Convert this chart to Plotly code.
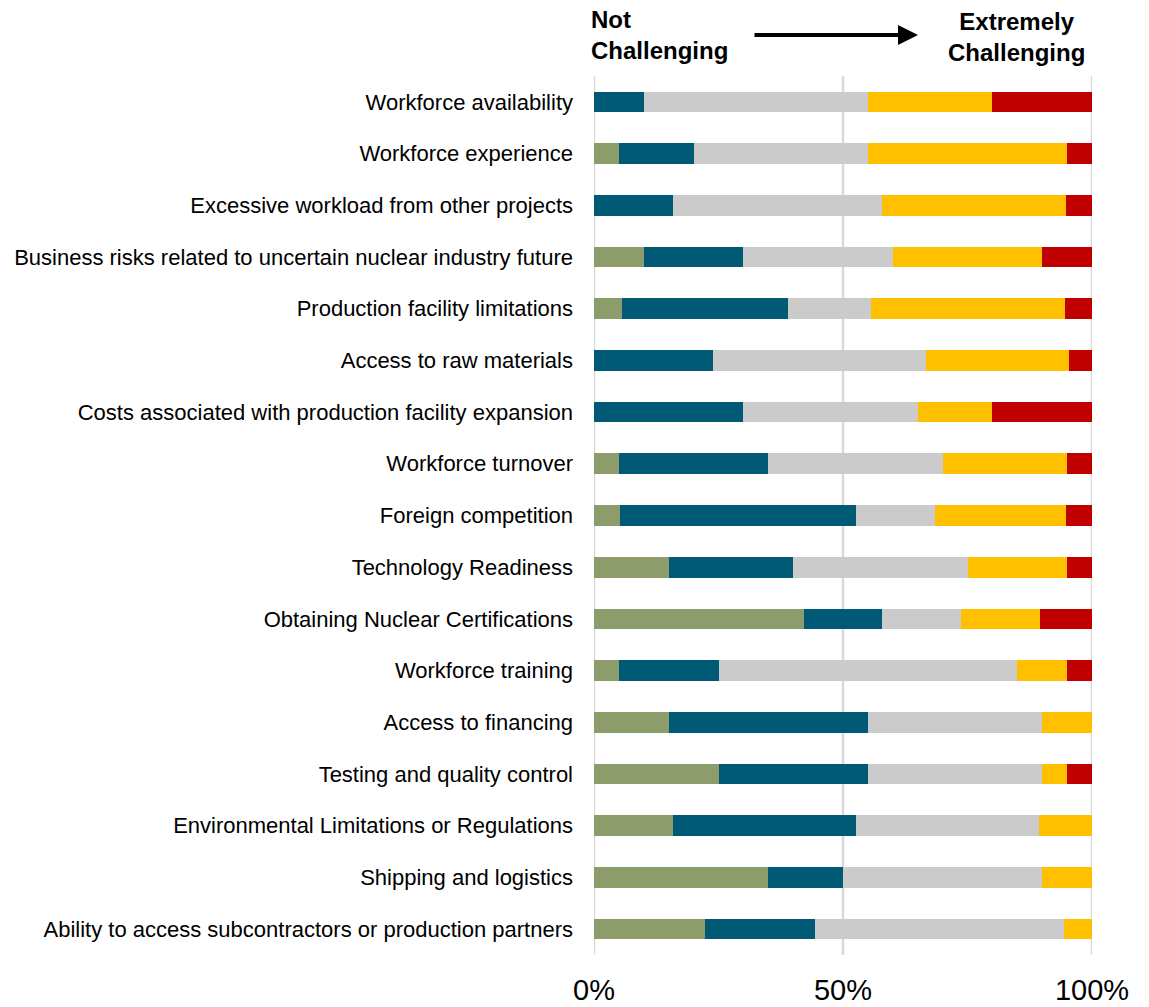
import plotly.graph_objects as go

categories = [
    "Workforce availability",
    "Workforce experience",
    "Excessive workload from other projects",
    "Business risks related to uncertain nuclear industry future",
    "Production facility limitations",
    "Access to raw materials",
    "Costs associated with production facility expansion",
    "Workforce turnover",
    "Foreign competition",
    "Technology Readiness",
    "Obtaining Nuclear Certifications",
    "Workforce training",
    "Access to financing",
    "Testing and quality control",
    "Environmental Limitations or Regulations",
    "Shipping and logistics",
    "Ability to access subcontractors or production partners",
]

level1 = [0, 5, 0, 10, 5.6, 0, 0, 5, 5.3, 15, 42.1, 5, 15, 25, 15.8, 35, 22.2]
level2 = [10, 15, 15.8, 20, 33.3, 23.8, 30, 30, 47.4, 25, 15.8, 20, 40, 30, 36.8, 15, 22.2]
level3 = [45, 35, 42.1, 30, 16.7, 42.9, 35, 35, 15.8, 35, 15.8, 60, 35, 35, 36.8, 40, 50]
level4 = [25, 40, 36.8, 30, 38.9, 28.6, 15, 25, 26.3, 20, 15.8, 10, 10, 5, 10.5, 10, 5.6]
level5 = [20, 5, 5.3, 10, 5.6, 4.8, 20, 5, 5.3, 5, 10.5, 5, 0, 5, 0, 0, 0]

series = [level1, level2, level3, level4, level5]
colors = ["#8C9C6A", "#005A75", "#CBCBCB", "#FFC000", "#C00000"]
names = ["1", "2", "3", "4", "5"]

tick_vals = [0, 50, 100]
tick_text = ["0%", "50%", "100%"]

fig = go.Figure()
for vals, col, nm in zip(series, colors, names):
    fig.add_trace(go.Bar(
        y=categories, x=vals, orientation="h", name=nm,
        marker=dict(color=col, line=dict(width=0)),
        width=0.4, showlegend=False, hoverinfo="x+y",
    ))

W, H = 1149, 1007
l, r, t, b = 594, 57, 76, 52
pw, ph = W - l - r, H - t - b

fig.update_layout(
    barmode="stack",
    width=W, height=H,
    margin=dict(l=l, r=r, t=t, b=b, autoexpand=False),
    plot_bgcolor="white", paper_bgcolor="white",
    font=dict(family="Liberation Sans, Arial, sans-serif", color="black"),
    xaxis=dict(
        range=[0, 100], tickvals=tick_vals, ticktext=tick_text,
        tickfont=dict(size=29), showgrid=False,
        zeroline=False, showline=False, ticks="", ticklabelstandoff=15,
        automargin=False,
    ),
    yaxis=dict(
        autorange="reversed", tickfont=dict(size=22), ticks="",
        ticklabelstandoff=20, showgrid=False, zeroline=False, showline=False,
        automargin=False,
    ),
)

for tv in tick_vals:
    fig.add_shape(type="line", xref="x", yref="paper", x0=tv, x1=tv, y0=0, y1=1,
                  line=dict(color="#D9D9D9", width=2.5), layer="below")

def px(xp):
    return (xp - l) / pw

def py(yp):
    return 1 - (yp - t) / ph

fig.add_annotation(text="<b>Not<br>Challenging</b>", x=px(589), y=py(4), xref="paper", yref="paper",
                   xanchor="left", yanchor="top", align="left", showarrow=False,
                   font=dict(size=24, color="black"))
fig.add_annotation(text="<b>Extremely<br>Challenging</b>", x=px(1016), y=py(6), xref="paper", yref="paper",
                   xanchor="center", yanchor="top", align="center", showarrow=False,
                   font=dict(size=24, color="black"))
fig.add_annotation(x=px(918), y=py(35), ax=-165, ay=0, xref="paper", yref="paper",
                   axref="pixel", ayref="pixel", text="", showarrow=True,
                   arrowhead=2, arrowsize=1, arrowwidth=4, arrowcolor="black")

fig.write_html("out.html")
